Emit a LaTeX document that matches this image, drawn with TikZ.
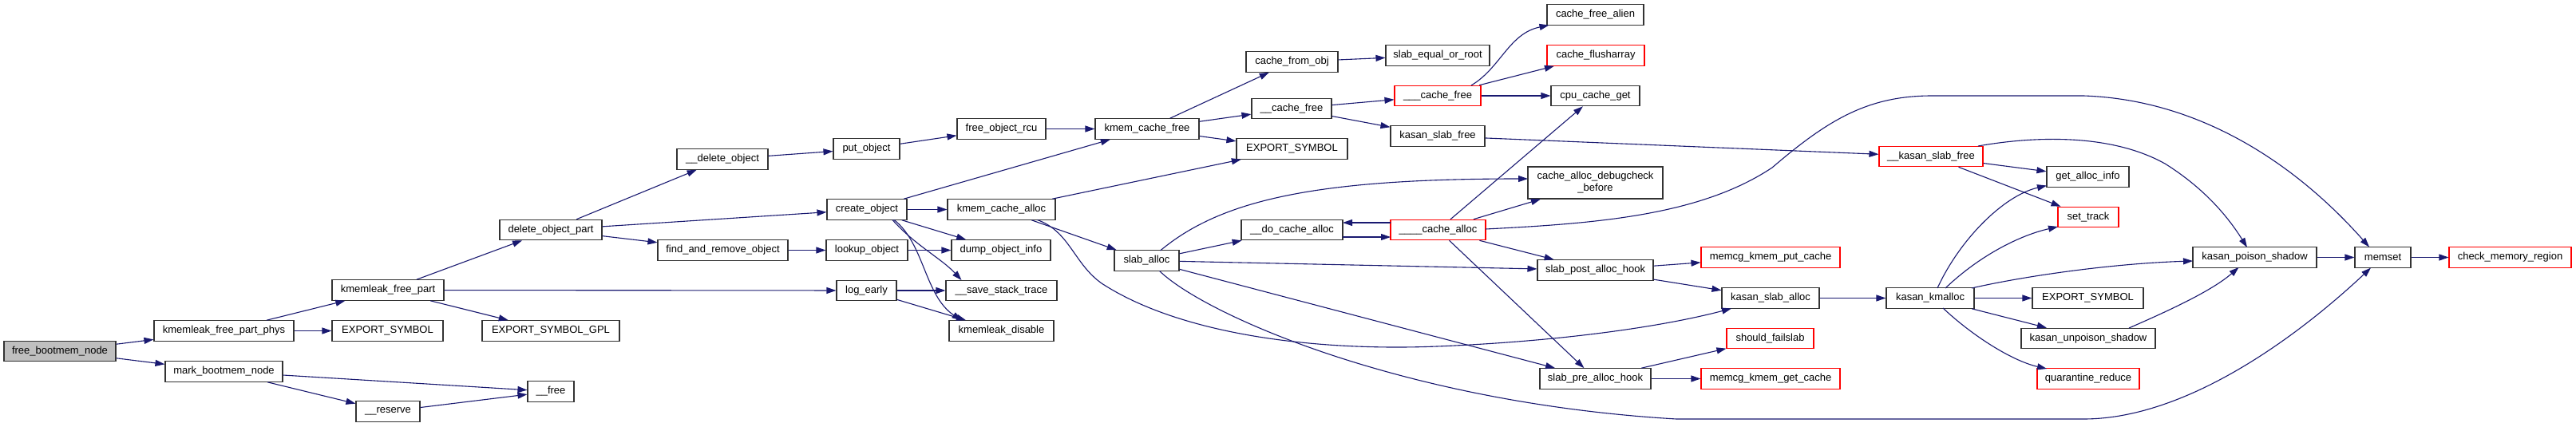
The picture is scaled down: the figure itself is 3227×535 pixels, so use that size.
\documentclass[tikz,border=0pt]{standalone}
\usepackage{fontspec}
\setmainfont{Liberation Sans}
\usetikzlibrary{arrows.meta,calc}
\definecolor{edgec}{HTML}{191970}
\definecolor{nodeb}{HTML}{333333}
\begin{document}
\begin{tikzpicture}[x=1pt,y=-1pt,
  fn/.style={draw=nodeb, line width=1.1pt, fill=white, rectangle, minimum height=25.5pt, inner sep=0pt, font=\fontsize{13}{15}\selectfont, text=black},
  fnr/.style={fn, draw=red},
  fnroot/.style={fn, fill=black!25},
  conn/.style={draw=edgec, line width=1.1pt, -{Triangle[length=12pt,width=8pt]}}]
\fill[white] (0,0) rectangle (3227,535);
\useasboundingbox (0,0) rectangle (3227,535);
% nodes
\node[fnroot, minimum width=140pt] (root) at (75,440) {free\_bootmem\_node};
\node[fn, minimum width=175pt] (kfpp) at (280.5,414.5) {kmemleak\_free\_part\_phys};
\node[fn, minimum width=147pt] (mbn) at (280.5,465.5) {mark\_bootmem\_node};
\node[fn, minimum width=140pt] (kfp) at (486,363.5) {kmemleak\_free\_part};
\node[fn, minimum width=139pt] (es1) at (485.5,414.5) {EXPORT\_SYMBOL};
\node[fn, minimum width=80pt] (reserve) at (486,515.5) {\_\_reserve};
\node[fn, minimum width=128pt] (dop) at (690,288) {delete\_object\_part};
\node[fn, minimum width=172pt] (esgpl) at (690,414.5) {EXPORT\_SYMBOL\_GPL};
\node[fn, minimum width=58pt] (free) at (690,490.5) {\_\_free};
\node[fn, minimum width=114pt] (delobj) at (905,199.5) {\_\_delete\_object};
\node[fn, minimum width=163pt] (faro) at (905.5,313.5) {find\_and\_remove\_object};
\node[fn, minimum width=83pt] (put) at (1085.5,186.5) {put\_object};
\node[fn, minimum width=100pt] (create) at (1086,262.5) {create\_object};
\node[fn, minimum width=102pt] (lookup) at (1086,313.5) {lookup\_object};
\node[fn, minimum width=75pt] (logearly) at (1085.5,364) {log\_early};
\node[fn, minimum width=111pt] (forcu) at (1254.5,161.5) {free\_object\_rcu};
\node[fn, minimum width=135pt] (kca) at (1254.5,262.5) {kmem\_cache\_alloc};
\node[fn, minimum width=124pt] (doi) at (1254,313.5) {dump\_object\_info};
\node[fn, minimum width=139pt] (sst) at (1254.5,364) {\_\_save\_stack\_trace};
\node[fn, minimum width=131pt] (kdis) at (1254.5,414.5) {kmemleak\_disable};
\node[fn, minimum width=130pt] (kcf) at (1437,161.5) {kmem\_cache\_free};
\node[fn, minimum width=81pt] (slaballoc) at (1436.5,326.5) {slab\_alloc};
\node[fn, minimum width=115pt] (cfo) at (1618.5,77.5) {cache\_from\_obj};
\node[fn, minimum width=100pt] (cachefree) at (1618,136) {\_\_cache\_free};
\node[fn, minimum width=139pt] (es2) at (1618.5,186.5) {EXPORT\_SYMBOL};
\node[fn, minimum width=127pt] (dca) at (1618.5,288) {\_\_do\_cache\_alloc};
\node[fn, minimum width=130pt] (seor) at (1801,69.5) {slab\_equal\_or\_root};
\node[fnr, minimum width=108pt] (tcf) at (1801,120) {\_\_\_cache\_free};
\node[fn, minimum width=118pt] (ksf) at (1801,170.5) {kasan\_slab\_free};
\node[fnr, minimum width=119pt] (ca4) at (1801.5,288) {\_\_\_\_cache\_alloc};
\node[fn, minimum width=121pt] (cfa) at (1998.5,18.5) {cache\_free\_alien};
\node[fnr, minimum width=122pt] (cfl) at (1999,69.5) {cache\_flusharray};
\node[fn, minimum width=111pt] (ccg) at (1998.5,120) {cpu\_cache\_get};
\node[fn, minimum width=169pt, minimum height=40pt, align=center] (cadb) at (1998.5,229) {cache\_alloc\_debugcheck\\\_before};
\node[fn, minimum width=145pt] (spah) at (1998.5,338.5) {slab\_post\_alloc\_hook};
\node[fn, minimum width=139pt] (sprh) at (1998.5,474.5) {slab\_pre\_alloc\_hook};
\node[fnr, minimum width=174pt] (mkpc) at (2218,322.5) {memcg\_kmem\_put\_cache};
\node[fn, minimum width=122pt] (ksa) at (2218,373.5) {kasan\_slab\_alloc};
\node[fnr, minimum width=109pt] (sfs) at (2217.5,424) {should\_failslab};
\node[fnr, minimum width=174pt] (mkgc) at (2218,474.5) {memcg\_kmem\_get\_cache};
\node[fnr, minimum width=130pt] (kksf) at (2419,196) {\_\_kasan\_slab\_free};
\node[fn, minimum width=110pt] (kkm) at (2418,373.5) {kasan\_kmalloc};
\node[fn, minimum width=103pt] (gai) at (2615.5,221.5) {get\_alloc\_info};
\node[fnr, minimum width=76pt] (st) at (2616,272) {set\_track};
\node[fn, minimum width=139pt] (es3) at (2615.5,373.5) {EXPORT\_SYMBOL};
\node[fn, minimum width=168pt] (kus) at (2616,424) {kasan\_unpoison\_shadow};
\node[fnr, minimum width=128pt] (qr) at (2616,474.5) {quarantine\_reduce};
\node[fn, minimum width=155pt] (kps) at (2824.5,322.5) {kasan\_poison\_shadow};
\node[fn, minimum width=70pt] (memset) at (2985,322.5) {memset};
\node[fnr, minimum width=153pt] (cmr) at (3144.5,322.5) {check\_memory\_region};
% straight edges
\draw[conn] (root) -- (kfpp);
\draw[conn] (root) -- (mbn);
\draw[conn] (kfpp) -- (kfp);
\draw[conn] (kfpp) -- (es1);
\draw[conn] (mbn) -- (free);
\draw[conn] (mbn) -- (reserve);
\draw[conn] (reserve) -- (free);
\draw[conn] (kfp) -- (dop);
\draw[conn] (kfp) -- (logearly);
\draw[conn] (kfp) -- (esgpl);
\draw[conn] (dop) -- (delobj);
\draw[conn] (dop) -- (create);
\draw[conn] (dop) -- (faro);
\draw[conn] (delobj) -- (put);
\draw[conn] (put) -- (forcu);
\draw[conn] (forcu) -- (kcf);
\draw[conn] (create) -- (kcf);
\draw[conn] (create) -- (kca);
\draw[conn] (create) -- (doi);
\draw[conn] (faro) -- (lookup);
\draw[conn] (lookup) -- (doi);
\draw[conn] (logearly) -- (sst);
\draw[conn] (logearly) -- (kdis);
\draw[conn] (kca) -- (es2);
\draw[conn] (kca) -- (slaballoc);
\draw[conn] (kcf) -- (cfo);
\draw[conn] (kcf) -- (cachefree);
\draw[conn] (kcf) -- (es2);
\draw[conn] (cfo) -- (seor);
\draw[conn] (cachefree) -- (tcf);
\draw[conn] (cachefree) -- (ksf);
\draw[conn] (tcf) -- (cfl);
\draw[conn] (tcf) -- (ccg);
\draw[conn] (ksf) -- (kksf);
\draw[conn] (slaballoc) -- (dca);
\draw[conn] (slaballoc) -- (spah);
\draw[conn] (slaballoc) -- (sprh);
\draw[conn] ($(dca)+(63.5,9)$) -- ($(ca4)+(-59.5,9)$);
\draw[conn] ($(ca4)+(-59.5,-9)$) -- ($(dca)+(63.5,-9)$);
\draw[conn] (ca4) -- (ccg);
\draw[conn] (ca4) -- (cadb);
\draw[conn] (ca4) -- (spah);
\draw[conn] (ca4) -- (sprh);
\draw[conn] (spah) -- (mkpc);
\draw[conn] (spah) -- (ksa);
\draw[conn] (sprh) -- (sfs);
\draw[conn] (sprh) -- (mkgc);
\draw[conn] (ksa) -- (kkm);
\draw[conn] (kkm) -- (es3);
\draw[conn] (kkm) -- (kus);
\draw[conn] (kksf) -- (gai);
\draw[conn] (kksf) -- (st);
\draw[conn] (kps) -- (memset);
\draw[conn] (memset) -- (cmr);
% curved edges
\draw[conn] ($(create)+(32,13)$) .. controls ($(create)+(60,44.5)$) and ($(sst)+(-75,-40)$) .. ($(sst)+(-50,-13)$);
\draw[conn] ($(create)+(34,13)$) .. controls ($(create)+(72,42.5)$) and ($(kdis)+(-96.5,-44.5)$) .. ($(kdis)+(-50,-13)$);
\draw[conn] ($(kca)+(45,13)$) .. controls (1340,290) and (1345,330) .. (1380,355)
  .. controls (1480,420) and (1650,440) .. (1800,434)
  .. controls (1950,428) and (2080,410) .. ($(ksa)+(-49,13)$);
\draw[conn] ($(slaballoc)+(16,13)$) .. controls (1510,395) and (1760,505) .. (2100,525)
  -- (2610,525) .. controls (2740,525) and (2880,420) .. ($(memset)+(-15,13)$);
\draw[conn] ($(ca4)+(59.5,-1)$) .. controls (2000,280) and (2130,270) .. (2220,210)
  .. controls (2290,150) and (2340,120) .. (2420,120)
  -- (2610,120) .. controls (2760,125) and (2880,210) .. ($(memset)+(-17,-13)$);
\draw[conn] ($(kksf)+(59,-13)$) .. controls (2540,172) and (2640,165) .. (2712,205)
  .. controls (2760,235) and (2790,270) .. ($(kps)+(-9.5,-12.5)$);
\draw[conn] ($(tcf)+(42,-13)$) .. controls (1880,85) and (1890,42) .. ($(cfa)+(-58,13)$);
\draw[conn] ($(slaballoc)+(17,-12.5)$) .. controls (1530,250) and (1650,224) .. ($(cadb)+(-84.5,-5)$);
\draw[conn] ($(kkm)+(9,-12.5)$) .. controls (2455,300) and (2510,245) .. ($(gai)+(-51.5,11)$);
\draw[conn] ($(kkm)+(19,-12.5)$) .. controls (2480,320) and (2530,295) .. ($(st)+(-38,12)$);
\draw[conn] ($(kkm)+(52,-12.5)$) .. controls (2540,345) and (2650,330) .. ($(kps)+(-77.5,4.5)$);
\draw[conn] ($(kkm)+(16,12.5)$) .. controls (2470,420) and (2520,452) .. ($(qr)+(-52,-12.5)$);
\draw[conn] ($(kus)+(51,-13)$) .. controls (2715,390) and (2770,365) .. ($(kps)+(-20,12.5)$);
\end{tikzpicture}
\end{document}
